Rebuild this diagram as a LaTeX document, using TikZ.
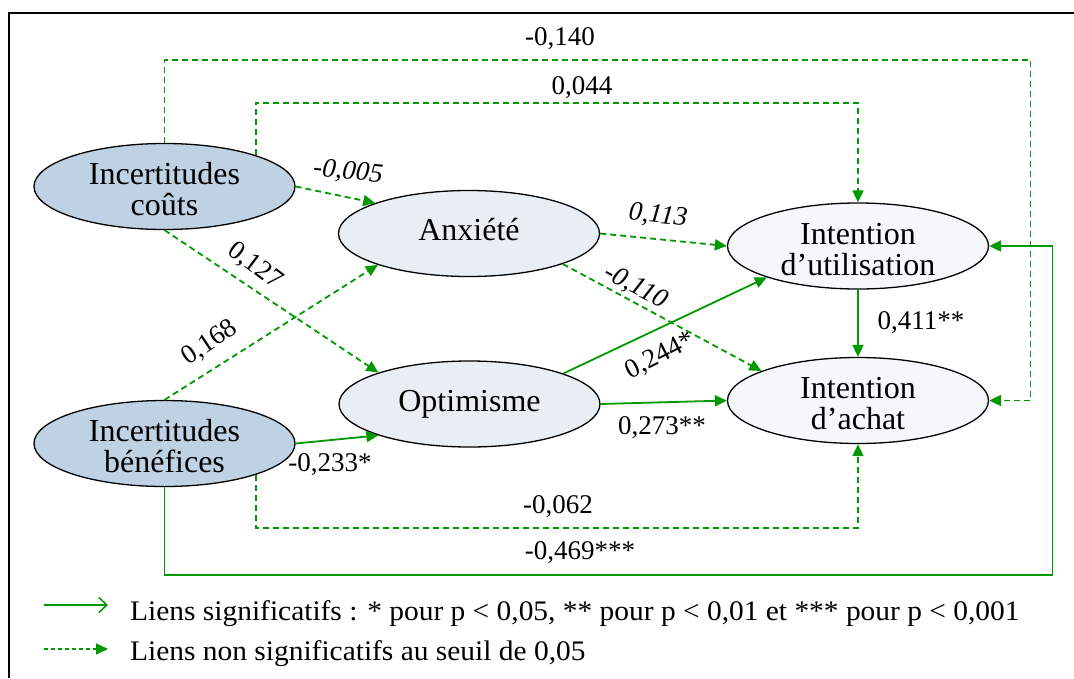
\documentclass[tikz,border=0pt]{standalone}
\usepackage{fontspec}
\setmainfont{Liberation Serif}
\usetikzlibrary{arrows.meta,shapes.geometric}
\definecolor{linkgreen}{RGB}{0,153,0}
\definecolor{exofill}{RGB}{191,210,228}
\definecolor{medfill}{RGB}{233,238,245}
\definecolor{endofill}{RGB}{245,247,251}

\begin{document}
\begin{tikzpicture}[x=1pt,y=-1pt,
  construct/.style={ellipse, draw=black, line width=1.3pt,
    minimum width=261pt, minimum height=86pt, inner sep=0pt, align=center,
    font=\fontsize{32}{31}\selectfont},
  twoline/.style={text height=58pt, text depth=0pt},
  oneline/.style={text height=21pt, text depth=7pt},
  sig/.style={draw=linkgreen, line width=1.8pt, -{Triangle[length=12pt,width=11pt]}},
  nonsig/.style={sig, dash pattern=on 6pt off 4pt},
  coef/.style={inner sep=0pt, font=\fontsize{27}{27}\selectfont},
  coefit/.style={inner sep=0pt, font=\fontsize{27}{27}\selectfont\itshape},
  legendtext/.style={inner sep=0pt, anchor=base west, xscale=1.04,
    font=\fontsize{28.3}{28.3}\selectfont},
]
\useasboundingbox (0,0) rectangle (1074,678);
\fill[white] (0,0) rectangle (1074,678);

% frame
\draw[line width=1.5pt] (9,678) -- (9,13) -- (1074,13);

% constructs
\node[construct, twoline, fill=exofill] (IC) at (164.5,186.5) {Incertitudes\\coûts};
\node[construct, twoline, fill=exofill] (IB) at (164.5,443.5) {Incertitudes\\bénéfices};
\node[construct, oneline, fill=medfill] (Anx) at (469,233.5) {Anxiété};
\node[construct, oneline, fill=medfill] (Opt) at (469.5,404) {Optimisme};
\node[construct, twoline, fill=endofill] (IU) at (858,246) {Intention\\d’utilisation};
\node[construct, twoline, fill=endofill] (IA) at (858,400.5) {Intention\\d’achat};

% bends of the routed links
\coordinate (r1) at (1030.5,60);
\coordinate (r2) at (0,102.7);
\coordinate (r3) at (1052.5,575);
\coordinate (r4) at (0,527.7);

% routed links
\draw[nonsig] (IC.north) |- (r1) |- (IA.east);
\draw[nonsig] (IC.19) -- (IC.19 |- r2) -| (IU.north);
\draw[sig] (IB.south) |- (r3) |- (IU.east);
\draw[nonsig] (IB.341) -- (IB.341 |- r4) -| (IA.south);

% direct links
\draw[nonsig] (IC.east) -- (Anx.162);
\draw[nonsig] (IC.south) -- (Opt.161);
\draw[nonsig] (IB.north) -- (Anx.199);
\draw[sig] (IB.east) -- (Opt.199);
\draw[nonsig] (Anx.east) -- (IU.west);
\draw[nonsig] (Anx.342) -- (IA.163);
\draw[sig] (Opt.18) -- (IU.199);
\draw[sig] (Opt.east) -- (IA.west);
\draw[sig] (IU.south) -- (IA.north);

% coefficients
\node[coef] (l140) at (560,39) {-0,140};
\node[coef] (l044) at (582,88) {0,044};
\node[coefit, rotate=-6] (l005) at (348,172) {-0,005};
\node[coef, rotate=-37] (l127) at (255,266) {0,127};
\node[coef, rotate=34] (l168) at (210,343) {0,168};
\node[coef] (l233) at (330,465) {-0,233*};
\node[coefit, rotate=-6] (l113) at (658,216) {0,113};
\node[coefit, rotate=-28] (l110) at (636,287) {-0,110};
\node[coef, rotate=27] (l244) at (660,356) {0,244*};
\node[coef] (l273) at (662,428) {0,273**};
\node[coef] (l411) at (921,323) {0,411**};
\node[coef] (l062) at (558,507) {-0,062};
\node[coef] (l469) at (580,553) {-0,469***};

% legend
\coordinate (g1a) at (44,605);
\coordinate (g1b) at (108,605);
\coordinate (g2a) at (44,649);
\coordinate (g2b) at (108,649);
\draw[linkgreen, line width=1.5pt, -{Straight Barb[length=8pt,width=15pt]}] (g1a) -- (g1b);
\draw[linkgreen, line width=1.5pt, dash pattern=on 4pt off 3pt,
  -{Triangle[length=12pt,width=11pt]}] (g2a) -- (g2b);
\node[legendtext] (t1) at (130,620.7) {Liens significatifs : * pour p < 0,05, ** pour p < 0,01 et *** pour p < 0,001};
\node[legendtext] (t2) at (130,660) {Liens non significatifs au seuil de 0,05};
\end{tikzpicture}
\end{document}
